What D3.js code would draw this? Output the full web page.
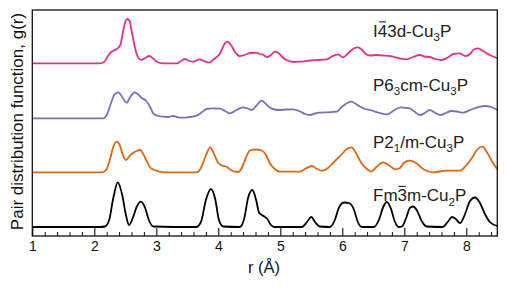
<!DOCTYPE html>
<html>
<head>
<meta charset="utf-8">
<script src="https://cdn.jsdelivr.net/npm/d3@7"></script>
<style>
  html, body { margin: 0; padding: 0; background: #fff; }
  svg { display: block; font-family: Arial, "Liberation Sans", Helvetica, sans-serif; }
</style>
</head>
<body>
<svg id="chart" width="507" height="289"></svg>
<script>
// ---- data (r in Å, g(r) relative to each curve's own baseline) ----
const xTicks = [1, 2, 3, 4, 5, 6, 7, 8];
const seriesNames = ["I43d", "P63cm", "P21m", "Fm3m"];
const seriesColors = ["#e62f8c", "#7c70b4", "#e2650f", "#000000"];
const seriesOffsets = [17.27, 11.77, 6.37, 0.9];

const pinkPDF = [[1.00,0],[2.09,0],[2.16,0.13],[2.20,0.53],[2.25,1.0],[2.30,1.23],[2.35,1.38],[2.42,1.83],[2.46,3.03],[2.50,4.13],[2.53,4.43],[2.57,4.23],[2.60,3.33],[2.64,2.03],[2.68,1.0],[2.72,0.48],[2.76,0.33],[2.82,0.53],[2.89,0.73],[2.95,0.48],[3.01,0.16],[3.11,0],[3.33,0],[3.40,0.23],[3.46,0.43],[3.53,0.23],[3.60,0.16],[3.66,0.33],[3.70,0.4],[3.77,0.23],[3.85,0.06],[3.93,0.43],[4.03,1.0],[4.09,1.83],[4.15,2.16],[4.21,1.78],[4.27,1.13],[4.34,0.73],[4.40,0.78],[4.46,0.93],[4.53,1.03],[4.62,1.06],[4.67,0.93],[4.73,0.83],[4.79,0.63],[4.85,0.83],[4.91,1.16],[4.98,0.98],[5.04,0.58],[5.12,0.28],[5.22,0.13],[5.32,0.16],[5.48,0.28],[5.61,0.33],[5.75,0.4],[5.83,0.68],[5.93,0.9],[6.01,0.6],[6.08,0.9],[6.14,1.28],[6.20,1.53],[6.25,1.6],[6.32,1.33],[6.38,0.93],[6.45,0.78],[6.54,0.83],[6.66,0.78],[6.77,0.73],[6.90,0.53],[7.04,0.4],[7.14,0.63],[7.25,0.83],[7.33,0.68],[7.41,0.63],[7.50,0.43],[7.60,0.33],[7.70,0.58],[7.79,0.93],[7.89,1.0],[7.99,0.73],[8.06,0.93],[8.12,1.38],[8.19,1.5],[8.27,1.23],[8.38,0.83],[8.50,0.5]];

const purplePDF = [[1.00,0],[2.15,0],[2.20,0.33],[2.27,1.53],[2.33,2.43],[2.39,2.6],[2.45,2.13],[2.52,1.56],[2.58,2.13],[2.65,2.6],[2.71,2.38],[2.76,2.06],[2.83,1.78],[2.90,1.13],[2.95,0.5],[3.03,0.23],[3.11,0.16],[3.19,0.13],[3.27,0.23],[3.35,0.1],[3.44,0.06],[3.54,0.13],[3.65,0.26],[3.74,0.63],[3.81,0.93],[3.91,1.0],[4.03,0.96],[4.11,0.73],[4.19,0.5],[4.29,0.83],[4.40,1.1],[4.48,0.98],[4.54,0.83],[4.61,1.23],[4.70,1.76],[4.77,1.43],[4.83,1.08],[4.91,0.88],[4.99,0.83],[5.09,0.88],[5.21,0.9],[5.32,0.68],[5.40,0.43],[5.48,0.33],[5.56,0.48],[5.64,0.56],[5.77,0.6],[5.91,0.66],[5.99,1.13],[6.08,1.53],[6.15,1.66],[6.22,1.43],[6.29,1.16],[6.37,0.93],[6.45,0.83],[6.58,0.58],[6.72,0.4],[6.82,0.73],[6.90,1.03],[6.96,1.1],[7.03,1.03],[7.09,1.0],[7.17,0.63],[7.25,0.33],[7.33,0.53],[7.41,0.83],[7.49,0.58],[7.58,0.33],[7.67,0.53],[7.76,0.73],[7.85,0.68],[7.95,0.56],[8.06,0.83],[8.22,1.16],[8.31,1.23],[8.38,1.16],[8.50,0.83]];

const orangePDF = [[1.00,0],[2.12,0],[2.19,0.23],[2.25,1.23],[2.30,2.43],[2.36,3.06],[2.41,2.73],[2.46,1.73],[2.51,1.23],[2.58,1.73],[2.63,1.96],[2.68,2.13],[2.74,2.23],[2.79,1.83],[2.85,1.06],[2.90,0.48],[2.95,0.28],[3.01,0.16],[3.06,0.06],[3.14,0],[3.65,0],[3.72,0.43],[3.79,1.53],[3.87,2.5],[3.93,1.83],[4.00,0.93],[4.06,0.68],[4.14,0.53],[4.20,0.23],[4.32,0.03],[4.38,0.43],[4.45,1.53],[4.51,2.18],[4.61,2.28],[4.70,2.18],[4.77,1.73],[4.83,0.93],[4.91,0.33],[4.99,0.06],[5.31,0.06],[5.41,0.38],[5.51,0.63],[5.59,0.33],[5.67,0.16],[5.77,0.43],[5.85,0.93],[5.93,1.43],[6.01,1.93],[6.07,2.33],[6.15,2.5],[6.22,1.93],[6.31,0.9],[6.38,0.43],[6.47,0.1],[6.55,0.53],[6.66,1.0],[6.75,0.73],[6.85,0.3],[6.93,0.43],[6.99,0.93],[7.09,1.16],[7.19,0.93],[7.31,0.3],[7.47,0],[7.68,0.16],[7.90,0.16],[7.99,0.63],[8.09,1.43],[8.17,2.23],[8.26,2.56],[8.33,2.03],[8.43,0.93],[8.50,0.3]];

const blackPDF = [[1.00,0],[2.09,0],[2.17,0.05],[2.24,0.7],[2.30,2.7],[2.38,4.47],[2.45,3.2],[2.51,1.2],[2.56,0.2],[2.62,0.9],[2.69,2.1],[2.75,2.53],[2.82,1.9],[2.88,0.7],[2.95,0.05],[3.64,0],[3.72,0.5],[3.80,2.7],[3.88,3.8],[3.95,2.8],[4.01,0.7],[4.08,0.05],[4.35,0],[4.42,0.9],[4.48,2.9],[4.55,3.7],[4.61,2.7],[4.66,1.4],[4.73,1.1],[4.79,0.8],[4.85,0.2],[4.91,0],[5.35,0],[5.43,0.5],[5.50,1.0],[5.56,0.5],[5.64,0.05],[5.80,0],[5.88,0.7],[5.95,2.0],[6.03,2.45],[6.12,2.35],[6.19,1.7],[6.25,0.5],[6.32,0],[6.51,0],[6.59,0.7],[6.66,2.0],[6.72,2.5],[6.78,1.9],[6.85,0.5],[6.91,0],[6.96,0.05],[7.03,0.9],[7.09,1.9],[7.14,2.05],[7.20,1.7],[7.28,0.6],[7.36,0.05],[7.62,0],[7.70,0.5],[7.77,1.0],[7.83,0.8],[7.90,0.4],[7.98,1.3],[8.06,2.6],[8.14,2.95],[8.22,2.4],[8.30,1.3],[8.38,0.5],[8.50,0.1]];

const seriesData = [pinkPDF, purplePDF, orangePDF, blackPDF];

// ---- layout ----
const svg = d3.select("#chart");
const x = d3.scaleLinear().domain([1, 8.5]).range([32.3, 497.3]);
const y = d3.scaleLinear().domain([0, 22.6]).range([236, 10]);

// curves
const line = d3.line().curve(d3.curveMonotoneX);
seriesData.forEach((data, i) => {
  line.x(d => x(d[0])).y(d => y(d[1] + seriesOffsets[i]));
  svg.append("path")
    .attr("d", line(data))
    .attr("fill", "none")
    .attr("stroke", seriesColors[i])
    .attr("stroke-width", 1.8)
    .attr("stroke-linejoin", "round");
});

// frame
svg.append("rect")
  .attr("x", x(1)).attr("y", y(22.6))
  .attr("width", x(8.5) - x(1)).attr("height", y(0) - y(22.6))
  .attr("fill", "none").attr("stroke", "#111").attr("stroke-width", 1.3);

// axes
const minorTicks = d3.range(12, 86, 2).filter(v => v % 10 !== 0).map(v => v / 10);
const gMinor = svg.append("g").attr("transform", `translate(0,${y(0)})`)
  .call(d3.axisBottom(x).tickValues(minorTicks).tickSize(-4).tickFormat(""));
gMinor.select(".domain").remove();
gMinor.selectAll("line").attr("stroke", "#111").attr("stroke-width", 1);

const gMajor = svg.append("g").attr("transform", `translate(0,${y(0)})`)
  .call(d3.axisBottom(x).tickValues(xTicks).tickSize(-8).tickPadding(5).tickFormat(d3.format("d")));
gMajor.select(".domain").remove();
gMajor.selectAll("line").attr("stroke", "#111").attr("stroke-width", 1.1);
gMajor.selectAll("text").attr("font-size", 14).attr("font-family", "Arial, 'Liberation Sans', sans-serif").attr("fill", "#111");

// axis titles
svg.append("text")
  .attr("x", 264).attr("y", 273)
  .attr("text-anchor", "middle").attr("font-size", 16.5).attr("fill", "#111")
  .text("r (Å)");

svg.append("text")
  .attr("transform", "translate(23,121.5) rotate(-90)")
  .attr("text-anchor", "middle").attr("font-size", 17).attr("fill", "#111")
  .text("Pair distribution function, g(r)");

// curve labels: [text, kind] kind 0 = normal, 1 = subscript, 2 = overbarred digit
const labelParts = [
  [["I", 0], ["4", 2], ["3d-Cu", 0], ["3", 1], ["P", 0]],
  [["P6", 0], ["3", 1], ["cm-Cu", 0], ["3", 1], ["P", 0]],
  [["P2", 0], ["1", 1], ["/m-Cu", 0], ["3", 1], ["P", 0]],
  [["Fm", 0], ["3", 2], ["m-Cu", 0], ["2", 1], ["P", 0]]
];
const labelBaselines = [36.5, 90.5, 147.5, 201];
const labelFont = 17;
labelParts.forEach((parts, i) => {
  const t = svg.append("text")
    .attr("x", 373).attr("y", labelBaselines[i])
    .attr("font-size", labelFont).attr("fill", "#222");
  let prevSub = 0;
  let charIndex = 0;
  const bars = [];
  parts.forEach(([s, kind]) => {
    const sub = kind === 1 ? 1 : 0;
    const ts = t.append("tspan").text(s);
    if (sub && !prevSub) ts.attr("dy", 4.5).attr("font-size", 11.5);
    if (!sub && prevSub) ts.attr("dy", -4.5);
    if (kind === 2) bars.push(charIndex);
    prevSub = sub;
    charIndex += s.length;
  });
  const node = t.node();
  bars.forEach(ci => {
    const x0 = node.getStartPositionOfChar(ci).x;
    const x1 = node.getEndPositionOfChar(ci).x;
    const yb = labelBaselines[i] - labelFont * 0.86;
    svg.append("line")
      .attr("x1", x0 + 1.2).attr("x2", x1 - 1.2)
      .attr("y1", yb).attr("y2", yb)
      .attr("stroke", "#222").attr("stroke-width", 1.1);
  });
});
</script>
</body>
</html>
